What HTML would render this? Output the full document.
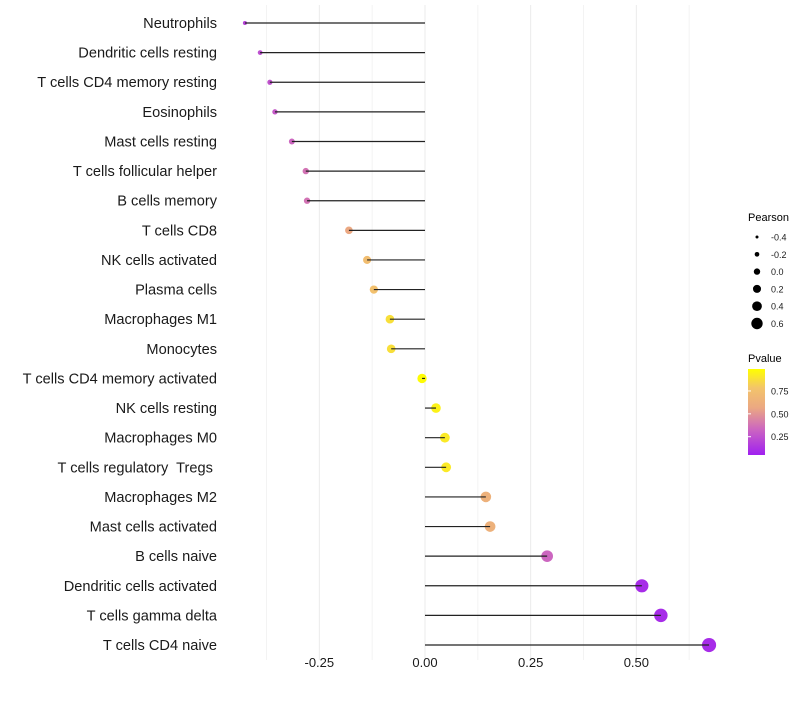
<!DOCTYPE html>
<html><head><meta charset="utf-8"><style>
body{margin:0;background:#fff;font-family:"Liberation Sans",Arial,sans-serif;}
text{white-space:pre;}
</style></head><body>
<svg id="c" width="800" height="700" xmlns="http://www.w3.org/2000/svg">
<defs><linearGradient id="pg" x1="0" y1="1" x2="0" y2="0">
<stop offset="0" stop-color="#a020f0"/><stop offset="0.3" stop-color="#cc66c0"/><stop offset="0.55" stop-color="#eba882"/><stop offset="0.78" stop-color="#f3c46a"/><stop offset="1" stop-color="#ffff00"/>
</linearGradient></defs>
<g id="grid"></g><g id="pts"></g><g id="marks"></g><g id="labels"></g><g id="ticks"></g>
<g id="sleg">
<text x="748" y="221" font-size="11">Pearson</text>
</g>
<g>
<text x="748" y="362" font-size="11">Pvalue</text>
<rect x="748" y="369" width="17" height="86" fill="url(#pg)"/>
<g id="cleg"></g>
</g>
</svg>
<script>
const categories=["Neutrophils","Dendritic cells resting","T cells CD4 memory resting","Eosinophils","Mast cells resting","T cells follicular helper","B cells memory","T cells CD8","NK cells activated","Plasma cells","Macrophages M1","Monocytes","T cells CD4 memory activated","NK cells resting","Macrophages M0","T cells regulatory  Tregs ","Macrophages M2","Mast cells activated","B cells naive","Dendritic cells activated","T cells gamma delta","T cells CD4 naive"];
const pearson=[-0.426,-0.39,-0.367,-0.355,-0.315,-0.282,-0.279,-0.18,-0.137,-0.121,-0.083,-0.08,-0.007,0.026,0.047,0.05,0.144,0.154,0.289,0.513,0.558,0.672];
const pvalue=[0.15,0.2,0.22,0.25,0.3,0.35,0.35,0.55,0.72,0.75,0.88,0.88,0.99,0.95,0.92,0.92,0.62,0.62,0.3,0.05,0.05,0.05];
const xTicks=[-0.25,0,0.25,0.5];
const xTickLabels=["-0.25","0.00","0.25","0.50"];
const sizeLegend=[-0.4,-0.2,0,0.2,0.4,0.6];
const sizeLegendLabels=["-0.4","-0.2","0.0","0.2","0.4","0.6"];
const colorLegend=[0.25,0.5,0.75];
const colorLegendLabels=["0.25","0.50","0.75"];
const NS="http://www.w3.org/2000/svg";
const x=v=>425+v*422.7;
const y=i=>23+i*29.62;
const rad=v=>Math.sqrt(Math.max(2,22+41.8*v));
const stops=[[0,[160,32,240]],[0.3,[204,102,192]],[0.55,[235,168,130]],[0.78,[243,196,106]],[1,[255,255,0]]];
function col(p){for(let k=1;k<stops.length;k++){if(p<=stops[k][0]){const a=stops[k-1],b=stops[k],t=(p-a[0])/(b[0]-a[0]);return "rgb("+a[1].map((c,j)=>Math.round(c+(b[1][j]-c)*t)).join(",")+")";}}return "rgb(255,255,0)";}
const cy=p=>455-(p-0.05)/0.94*86;
function mk(t,at,parent){const e=document.createElementNS(NS,t);for(const k in at)e.setAttribute(k,at[k]);document.getElementById(parent).appendChild(e);return e;}
for(let g=-0.375;g<=0.63;g+=0.125){const e=mk("line",{x1:x(g),x2:x(g),y1:5,y2:660,stroke:Math.abs(g/0.25-Math.round(g/0.25))<1e-6?"#ebebeb":"#f3f3f3","stroke-width":1},"grid");

}
categories.forEach((c,i)=>{
const p=mk("circle",{cx:x(pearson[i]),cy:y(i),r:rad(pearson[i]),fill:col(pvalue[i])},"pts");


const l=mk("line",{x1:x(0),x2:x(pearson[i]),y1:y(i),y2:y(i),stroke:"#222","stroke-width":1.2},"marks");


const t=mk("text",{x:217,y:y(i)+5,"text-anchor":"end","font-size":14.6,fill:"#1a1a1a"},"labels");
t.textContent=c;


});
xTicks.forEach((v,i)=>{const t=mk("text",{x:x(v),y:667,"text-anchor":"middle","font-size":13,fill:"#1a1a1a"},"ticks");
t.textContent=xTickLabels[i];

});
sizeLegend.forEach((v,i)=>{const yy=237+i*17.3;
const c=mk("circle",{cx:757,cy:yy,r:1.5+(v+0.4)*4.2,fill:"#000"},"sleg");


const t=mk("text",{x:771,y:yy+3.5,"font-size":9,fill:"#1a1a1a"},"sleg");
t.textContent=sizeLegendLabels[i];

});
colorLegend.forEach((v,i)=>{const yy=cy(v);
const l=mk("line",{x1:748,x2:751,y1:yy,y2:yy,stroke:"#fff"},"cleg");


const t=mk("text",{x:771,y:yy+3.5,"font-size":9,fill:"#1a1a1a"},"cleg");
t.textContent=colorLegendLabels[i];

});
</script>
</body></html>
